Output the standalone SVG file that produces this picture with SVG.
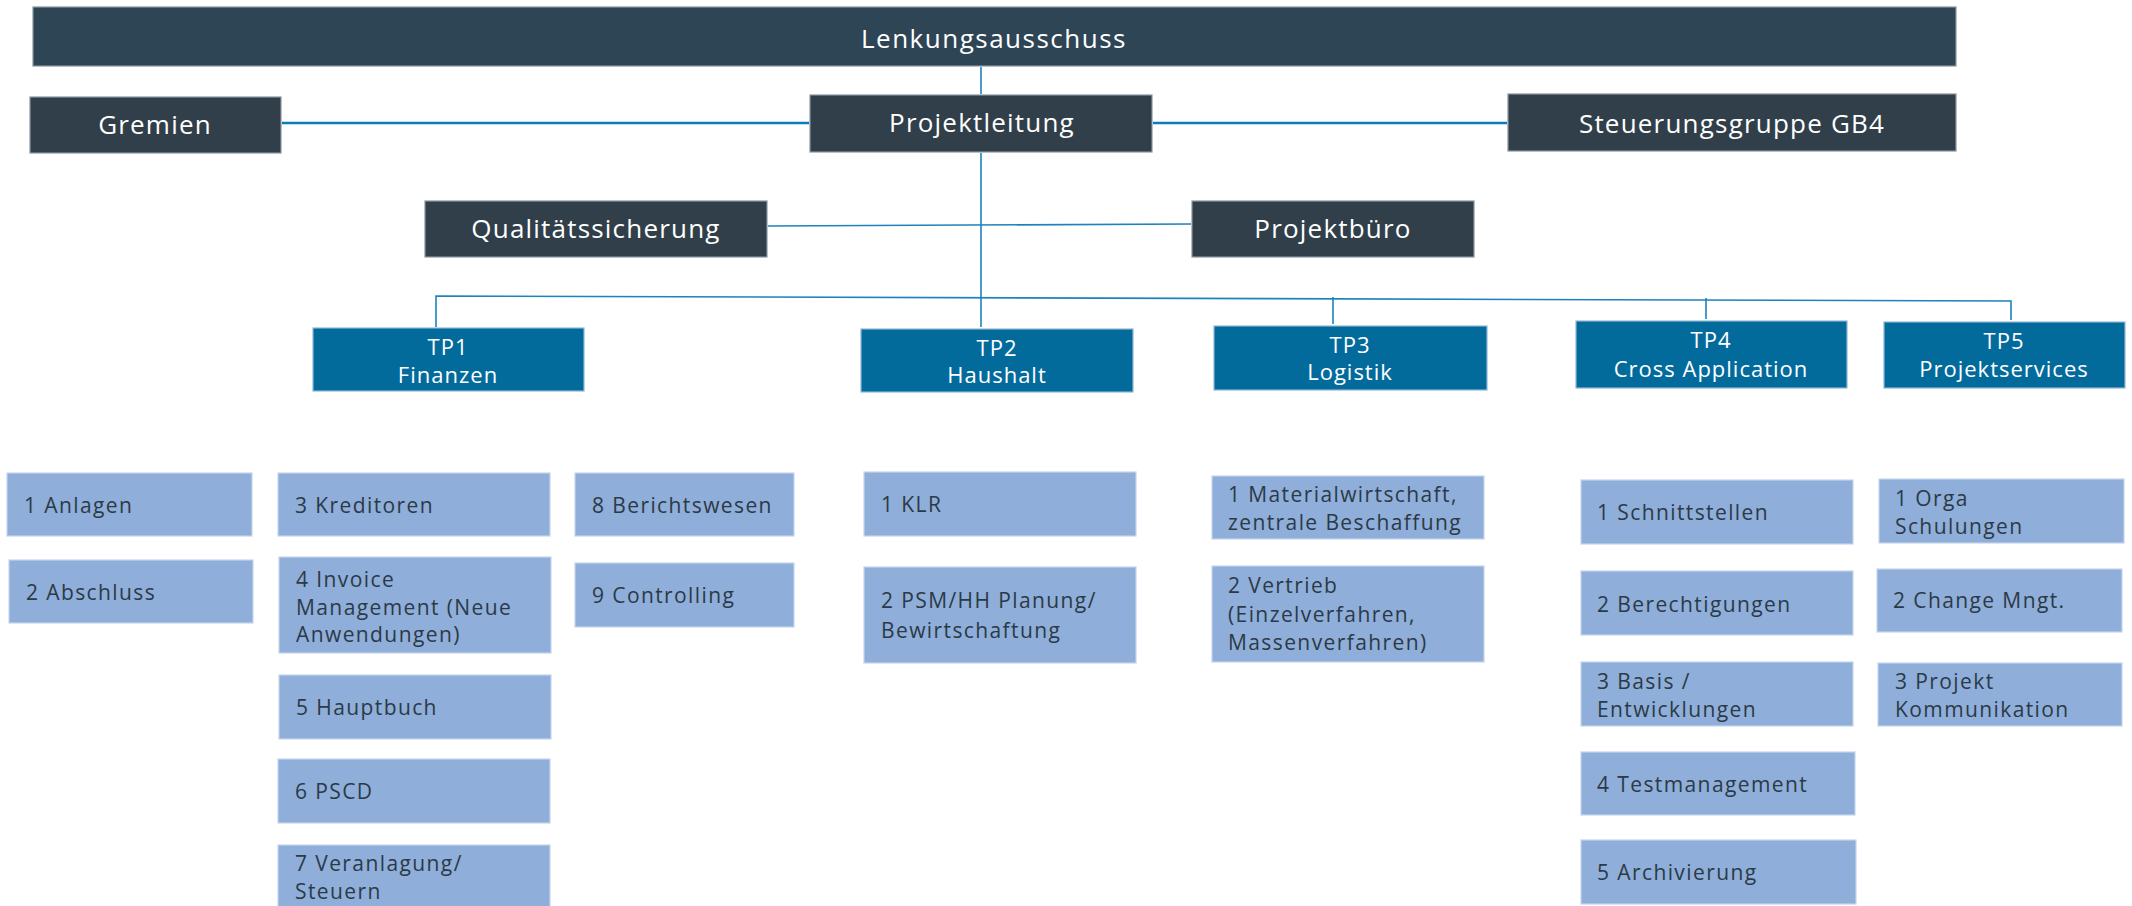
<svg xmlns="http://www.w3.org/2000/svg" width="2132" height="906" viewBox="0 0 2132 906">
<style>
.bg{fill:#ffffff}
.dark{fill:#313f4a;stroke:#8a959e;stroke-width:1.2}
.top{fill:#2e4556;stroke:#8a959e;stroke-width:1.2}
.tp{fill:#036b9c;stroke:#8fb6d3;stroke-width:1.2}
.sub{fill:#8faed9;stroke:#c4d4ec;stroke-width:1.2}
.tw{font-family:"Open Sans","DejaVu Sans",sans-serif;font-size:26px;letter-spacing:1.2px;fill:#ffffff;text-anchor:middle}
.tt{font-family:"Open Sans","DejaVu Sans",sans-serif;font-size:22px;letter-spacing:1px;fill:#ffffff;text-anchor:middle}
.ts{font-family:"Open Sans","DejaVu Sans",sans-serif;font-size:21px;letter-spacing:1.4px;fill:#2b3a47}
.c{stroke:#1d82bd;stroke-width:1.6;fill:none}
.ct{stroke:#0a7cba;stroke-width:2.6;fill:none}
</style>
<rect class="bg" x="0" y="0" width="2132" height="906"/>
<g id="connectors">
<line class="c" x1="981" y1="67" x2="981" y2="94"/>
<line class="ct" x1="282" y1="123" x2="809" y2="123"/>
<line class="ct" x1="1153" y1="123" x2="1507" y2="123"/>
<line class="c" x1="768" y1="226" x2="1191" y2="224"/>
<line class="c" x1="981" y1="153" x2="981" y2="327"/>
<polyline class="c" points="436,327 436,296 2011,301 2011,320"/>
<line class="c" x1="1333" y1="297" x2="1333" y2="324"/>
<line class="c" x1="1706" y1="298" x2="1706" y2="319"/>
</g>
<g id="lenkungsausschuss"><rect class="top" x="33" y="7" width="1923" height="59"/><text class="tw" x="994" y="48" style="letter-spacing:1.5px">Lenkungsausschuss</text></g>
<g id="gremien"><rect class="dark" x="30" y="97" width="251" height="56"/><text class="tw" x="155" y="134">Gremien</text></g>
<g id="projektleitung"><rect class="dark" x="810" y="95" width="342" height="57"/><text class="tw" x="982" y="132">Projektleitung</text></g>
<g id="steuerungsgruppe"><rect class="dark" x="1508" y="94" width="448" height="57"/><text class="tw" x="1732" y="133">Steuerungsgruppe GB4</text></g>
<g id="qualitaetssicherung"><rect class="dark" x="425" y="201" width="342" height="56"/><text class="tw" x="596" y="238">Qualitätssicherung</text></g>
<g id="projektbuero"><rect class="dark" x="1192" y="201" width="282" height="56"/><text class="tw" x="1333" y="238">Projektbüro</text></g>
<g id="tp1"><rect class="tp" x="313" y="328" width="271" height="63"/><text class="tt" x="448" y="355">TP1</text><text class="tt" x="448" y="383">Finanzen</text></g>
<g id="tp2"><rect class="tp" x="861" y="329" width="272" height="63"/><text class="tt" x="997" y="356">TP2</text><text class="tt" x="997" y="383">Haushalt</text></g>
<g id="tp3"><rect class="tp" x="1214" y="326" width="273" height="64"/><text class="tt" x="1350" y="353">TP3</text><text class="tt" x="1350" y="380">Logistik</text></g>
<g id="tp4"><rect class="tp" x="1576" y="321" width="271" height="67"/><text class="tt" x="1711" y="348">TP4</text><text class="tt" x="1711" y="377">Cross Application</text></g>
<g id="tp5"><rect class="tp" x="1884" y="322" width="241" height="66"/><text class="tt" x="2004" y="349">TP5</text><text class="tt" x="2004" y="377">Projektservices</text></g>
<g id="tp1-1"><rect class="sub" x="7" y="473" width="245" height="63"/><text class="ts" x="24" y="513">1 Anlagen</text></g>
<g id="tp1-2"><rect class="sub" x="9" y="560" width="244" height="63"/><text class="ts" x="26" y="600">2 Abschluss</text></g>
<g id="tp1-3"><rect class="sub" x="278" y="473" width="272" height="63"/><text class="ts" x="295" y="513">3 Kreditoren</text></g>
<g id="tp1-4"><rect class="sub" x="279" y="557" width="272" height="96"/><text class="ts" x="296" y="587">4 Invoice</text><text class="ts" x="296" y="615">Management (Neue</text><text class="ts" x="296" y="642">Anwendungen)</text></g>
<g id="tp1-5"><rect class="sub" x="279" y="675" width="272" height="64"/><text class="ts" x="296" y="715">5 Hauptbuch</text></g>
<g id="tp1-6"><rect class="sub" x="278" y="759" width="272" height="64"/><text class="ts" x="295" y="799">6 PSCD</text></g>
<g id="tp1-7"><rect class="sub" x="278" y="845" width="272" height="70"/><text class="ts" x="295" y="871">7 Veranlagung/</text><text class="ts" x="295" y="899">Steuern</text></g>
<g id="tp1-8"><rect class="sub" x="575" y="473" width="219" height="63"/><text class="ts" x="592" y="513">8 Berichtswesen</text></g>
<g id="tp1-9"><rect class="sub" x="575" y="563" width="219" height="64"/><text class="ts" x="592" y="603">9 Controlling</text></g>
<g id="tp2-1"><rect class="sub" x="864" y="472" width="272" height="64"/><text class="ts" x="881" y="512">1 KLR</text></g>
<g id="tp2-2"><rect class="sub" x="864" y="567" width="272" height="96"/><text class="ts" x="881" y="608">2 PSM/HH Planung/</text><text class="ts" x="881" y="638">Bewirtschaftung</text></g>
<g id="tp3-1"><rect class="sub" x="1212" y="476" width="272" height="63"/><text class="ts" x="1228" y="502">1 Materialwirtschaft,</text><text class="ts" x="1228" y="530">zentrale Beschaffung</text></g>
<g id="tp3-2"><rect class="sub" x="1212" y="566" width="272" height="96"/><text class="ts" x="1228" y="593">2 Vertrieb</text><text class="ts" x="1228" y="622">(Einzelverfahren,</text><text class="ts" x="1228" y="650">Massenverfahren)</text></g>
<g id="tp4-1"><rect class="sub" x="1581" y="480" width="272" height="64"/><text class="ts" x="1597" y="520">1 Schnittstellen</text></g>
<g id="tp4-2"><rect class="sub" x="1581" y="571" width="272" height="64"/><text class="ts" x="1597" y="612">2 Berechtigungen</text></g>
<g id="tp4-3"><rect class="sub" x="1581" y="662" width="272" height="64"/><text class="ts" x="1597" y="689">3 Basis /</text><text class="ts" x="1597" y="717">Entwicklungen</text></g>
<g id="tp4-4"><rect class="sub" x="1581" y="752" width="274" height="63"/><text class="ts" x="1597" y="792">4 Testmanagement</text></g>
<g id="tp4-5"><rect class="sub" x="1581" y="840" width="275" height="64"/><text class="ts" x="1597" y="880">5 Archivierung</text></g>
<g id="tp5-1"><rect class="sub" x="1879" y="479" width="245" height="64"/><text class="ts" x="1895" y="506">1 Orga</text><text class="ts" x="1895" y="534">Schulungen</text></g>
<g id="tp5-2"><rect class="sub" x="1877" y="569" width="245" height="63"/><text class="ts" x="1893" y="608">2 Change Mngt.</text></g>
<g id="tp5-3"><rect class="sub" x="1878" y="663" width="244" height="63"/><text class="ts" x="1895" y="689">3 Projekt</text><text class="ts" x="1895" y="717">Kommunikation</text></g>
</svg>
